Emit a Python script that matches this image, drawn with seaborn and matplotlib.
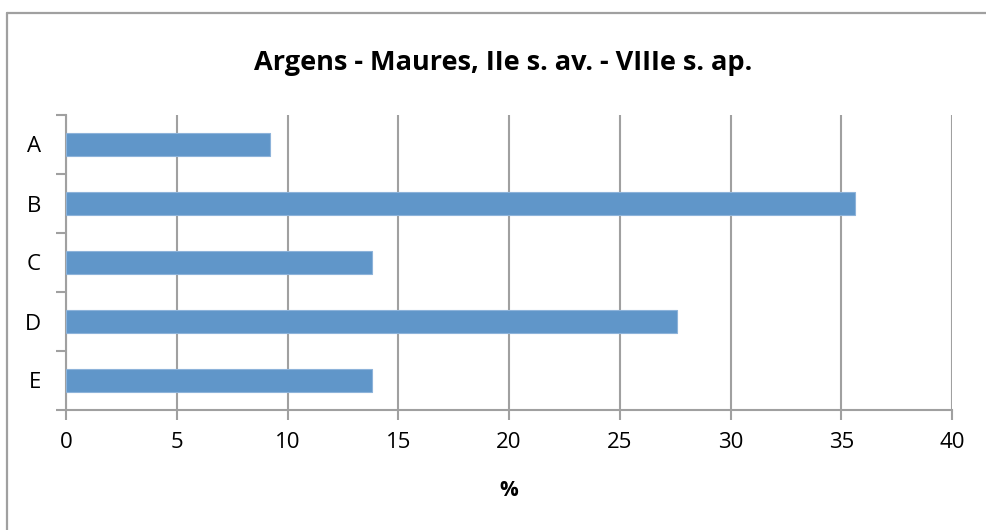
import pandas as pd
import seaborn as sns
import matplotlib.pyplot as plt
from matplotlib.lines import Line2D
from matplotlib.ticker import FixedLocator

# data
categories = ['A', 'B', 'C', 'D', 'E']
percent = [9.2, 35.6, 13.8, 27.6, 13.8]
x_ticks = [0, 5, 10, 15, 20, 25, 30, 35, 40]

title = 'Argens - Maures, IIe s. av. - VIIIe s. ap.'
x_label = '%'

df = pd.DataFrame({'cat': categories, 'pct': percent})

sns.set_theme(style='white')
plt.rcParams['font.family'] = ['Open Sans', 'DejaVu Sans']
plt.rcParams['text.color'] = 'black'
plt.rcParams['xtick.color'] = 'black'
plt.rcParams['ytick.color'] = 'black'
plt.rcParams['axes.labelcolor'] = 'black'

grey = '#A0A0A0'
bar_col = '#6096C9'

fig = plt.figure(figsize=(9.87, 5.3), dpi=100)
ax = fig.add_axes([66 / 987, 1 - 410 / 530, (952 - 66) / 987, (410 - 115) / 530])

sns.barplot(data=df, x='pct', y='cat', orient='h', color=bar_col, width=0.4,
            edgecolor='#8DB3DA', linewidth=0.8, saturation=1, ax=ax, zorder=3)

ax.set_xlim(0, 40)
ax.set_ylim(len(categories) - 0.5, -0.5)
ax.set_xticks(x_ticks)
ax.set_xticklabels([str(t) for t in x_ticks], fontsize=16)
ax.set_yticks(range(len(categories)))
ax.set_yticklabels(categories, fontsize=16)
ax.yaxis.set_minor_locator(FixedLocator([i - 0.5 for i in range(len(categories) + 1)]))

ax.tick_params(axis='y', which='major', length=0, pad=18, labelcolor='black')
ax.tick_params(axis='y', which='minor', length=7, width=1.5, color=grey, left=True)
ax.tick_params(axis='x', which='major', length=7, width=1.5, color=grey, bottom=True,
               pad=9, labelcolor='black')

ax.grid(axis='x', color=grey, linewidth=1.5, zorder=0)
ax.grid(axis='y', visible=False)
ax.set_axisbelow(True)

for s in ['top', 'right']:
    ax.spines[s].set_visible(False)
for s in ['left', 'bottom']:
    ax.spines[s].set_color(grey)
    ax.spines[s].set_linewidth(1.5)

ax.set_ylabel('')
ax.set_xlabel(x_label, fontsize=15, fontweight='bold', labelpad=19, color='black')

fig.text(503 / 987, 1 - 63 / 530, title, ha='center', va='center',
         fontsize=19.5, fontweight='bold', color='black')

# outer chart frame (left and top edges are visible)
fig.add_artist(Line2D([7.5 / 987, 7.5 / 987], [0, 1 - 12.5 / 530], transform=fig.transFigure,
                      color=grey, linewidth=1.6))
fig.add_artist(Line2D([7.5 / 987, 1], [1 - 12.5 / 530, 1 - 12.5 / 530], transform=fig.transFigure,
                      color=grey, linewidth=1.6))

fig.savefig('out.png', dpi=100)
